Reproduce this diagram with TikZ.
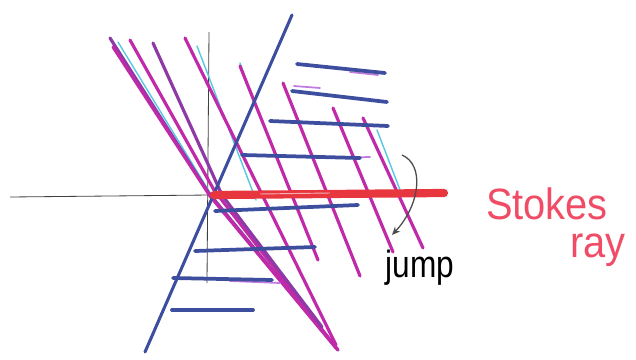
\documentclass[tikz,border=0pt]{standalone}
\usepackage{fontspec}
\usepackage{graphicx}
\setmainfont{Liberation Sans}
\usetikzlibrary{arrows.meta}
\definecolor{mag}{HTML}{C02AA8}
\definecolor{purp}{HTML}{8E3AA6}
\definecolor{blu}{HTML}{3D4E9E}
\definecolor{cya}{HTML}{58C8E0}
\definecolor{redb}{HTML}{E8363F}
\definecolor{pinkt}{HTML}{F04C66}
\definecolor{viol}{HTML}{C07AE0}
\tikzset{
  magline/.style={draw=mag, line width=2.7pt, line cap=round, line join=round},
  purline/.style={draw=purp, line width=2.7pt, line cap=round, line join=round},
  cyline/.style={draw=cya, line width=1.2pt, line cap=round},
  bluline/.style={draw=blu, line width=3.2pt, line cap=round},
  violine/.style={draw=viol, line width=1.5pt, line cap=round},
  axis/.style={draw=black!75, line width=0.7pt},
  lbl/.style={inner sep=0pt, anchor=center}
}
\begin{document}
\begin{tikzpicture}[x=0.03cm, y=-0.03cm]
\useasboundingbox (0,0) rectangle (636,360);
% axes
\draw[axis] (10,197) -- (210,195);
\draw[axis] (209,32) -- (207,283);
% cyan lines
\draw[cyline] (118,42) -- (212,196);
\draw[cyline] (197,46) -- (256,200);
\draw[cyline] (240,63) -- (246,80);
\draw[cyline] (377,130) -- (402,195);
% left fan of magenta / purple lines
\draw[purline] (110,38) -- (208,192) -- (338,350);
\draw[magline] (113,47) -- (210,196) -- (336,348);
\draw[magline] (130,40) -- (214,190) -- (338,350);
\draw[purline] (153,43) -- (222,195) -- (322,327);
\draw[magline] (185,38) -- (336,345);
% right family of magenta lines
\draw[magline] (240,66) -- (318,260);
\draw[magline] (283,83) -- (360,276);
\draw[magline] (333,108) -- (393,252);
\draw[magline] (363,118) -- (423,248);
% blue diagonal
\draw[bluline, line width=2.6pt] (145,352) -- (292,15);
% red band
\draw[draw=redb, line width=7pt, line cap=round] (214,195) -- (444,193);
\draw[draw=white!60!redb, line width=0.8pt] (260,194) -- (330,193);
% blue horizontals
\draw[violine] (350,72) -- (378,75);
\draw[bluline] (297,64) -- (385,73);
\draw[violine] (294,86) -- (320,88);
\draw[bluline] (292,91) -- (387,102);
\draw[bluline] (270,121) -- (388,126);
\draw[violine] (330,158) -- (370,157);
\draw[bluline] (242,155) -- (360,158);
\draw[bluline] (215,211) -- (358,205);
\draw[bluline] (195,251) -- (315,247);
\draw[violine] (230,281) -- (280,283);
\draw[bluline] (173,278) -- (272,280);
\draw[bluline] (172,310) -- (253,310);
% jump arrow
\coordinate (js) at (402,155);
\coordinate (je) at (392,235);
\draw[draw=black!70, line width=1.1pt, -{Stealth[length=7pt,width=6pt]}]
  (js) .. controls (425,165) and (420,205) .. (je);
% labels
\node[lbl, text=black, font=\fontsize{27}{27}\selectfont] (jump) at (420,268) {\scalebox{1}[1.2]{jump}};
\node[lbl, text=pinkt, font=\fontsize{34}{34}\selectfont] (stokes) at (547,204) {\scalebox{1}[1.1]{Stokes}};
\node[lbl, text=pinkt, font=\fontsize{34}{34}\selectfont] (ray) at (598,250) {\scalebox{1}[1.1]{ray}};
\end{tikzpicture}
\end{document}
